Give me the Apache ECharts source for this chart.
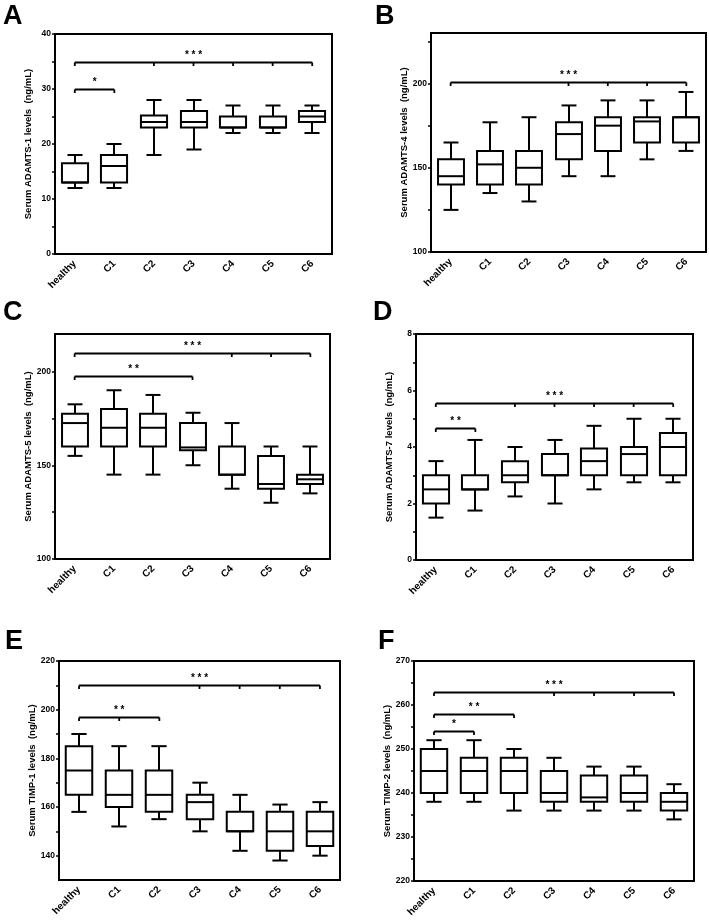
<!DOCTYPE html>
<html>
<head>
<meta charset="utf-8">
<script src="https://cdn.jsdelivr.net/npm/echarts@6/dist/echarts.min.js"></script>
<style>
  html, body { margin: 0; padding: 0; background: #fff; }
  #chart { width: 709px; height: 924px; }
</style>
</head>
<body>
<div id="chart"></div>
<script>
// ---------------- data ----------------
const categories = ['healthy', 'C1', 'C2', 'C3', 'C4', 'C5', 'C6'];
const panelLetters = ['A', 'B', 'C', 'D', 'E', 'F'];
const yTitles = [
  'Serum ADAMTS-1 levels  (ng/mL)',
  'Serum ADAMTS-4 levels  (ng/mL)',
  'Serum ADAMTS-5 levels  (ng/mL)',
  'Serum ADAMTS-7 levels  (ng/mL)',
  'Serum TIMP-1 levels  (ng/mL)',
  'Serum TIMP-2 levels  (ng/mL)'
];

// each box: [lower whisker, Q1, median, Q3, upper whisker]
const boxesA = [[12, 13, 13, 16.5, 18], [12, 13, 16, 18, 20], [18, 23, 24, 25.2, 28], [19, 23, 24, 26, 28], [22, 23, 23, 25, 27], [22, 23, 23, 25, 27], [22, 24, 25, 26, 27]];
const boxesB = [[125, 140, 145, 155, 165], [135, 140, 152, 160, 177], [130, 140, 150, 160, 180], [145, 155, 170, 177, 187], [145, 160, 175, 180, 190], [155, 165, 177.5, 180, 190], [160, 165, 180, 180, 195]];
const boxesC = [[155, 160, 172.5, 177.5, 182.5], [145, 160, 170, 180, 190], [145, 160, 170, 177.5, 187.5], [150, 158, 159.5, 172.5, 178], [137.5, 145, 145, 160, 172.5], [130, 137.5, 140, 155, 160], [135, 140, 142.5, 145, 160]];
const boxesD = [[1.5, 2, 2.5, 3, 3.5], [1.75, 2.5, 2.5, 3, 4.25], [2.25, 2.75, 3, 3.5, 4], [2, 3, 3, 3.75, 4.25], [2.5, 3, 3.5, 3.95, 4.75], [2.75, 3, 3.75, 4, 5], [2.75, 3, 4, 4.5, 5]];
const boxesE = [[158, 165, 175, 185, 190], [152, 160, 165, 175, 185], [155, 158, 165, 175, 185], [150, 155, 162, 165, 170], [142, 150, 150, 158, 165], [138, 142, 150, 158, 161], [140, 144, 150, 158, 162]];
const boxesF = [[238, 240, 245, 250, 252], [238, 240, 245, 248, 252], [236, 240, 245, 248, 250], [236, 238, 240, 245, 248], [236, 238, 239, 244, 246], [236, 238, 240, 244, 246], [234, 236, 238, 240, 242]];

// significance brackets: [from category, to category, y value, label, categories with a tick]
const bracketsA = [[0, 6, 35, '* * *', [0, 2, 3, 4, 5, 6]], [0, 1, 30, '*', [0, 1]]];
const bracketsB = [[0, 6, 201, '* * *', [0, 3, 4, 5, 6]]];
const bracketsC = [[0, 6, 210, '* * *', [0, 4, 5, 6]], [0, 3, 197.5, '* *', [0, 3]]];
const bracketsD = [[0, 6, 5.55, '* * *', [0, 2, 3, 4, 5, 6]], [0, 1, 4.67, '* *', [0, 1]]];
const bracketsE = [[0, 6, 210, '* * *', [0, 3, 4, 5, 6]], [0, 2, 197, '* *', [0, 1, 2]]];
const bracketsF = [[0, 6, 263, '* * *', [0, 3, 4, 5, 6]], [0, 2, 258, '* *', [0, 2]], [0, 1, 254, '*', [0, 1]]];

// y axis ranges and ticks
const yMin = [0, 100, 100, 0, 130, 220];
const yMax = [40, 230, 220, 8, 220, 270];
const yTickLabels = [
  [0, 10, 20, 30, 40],
  [100, 150, 200],
  [100, 150, 200],
  [0, 2, 4, 6, 8],
  [140, 160, 180, 200, 220],
  [220, 230, 240, 250, 260, 270]
];
const yMinorTicks = [
  [5, 15, 25, 35],
  [125, 175, 225],
  [125, 175],
  [1, 3, 5, 7],
  [150, 170, 190, 210],
  [225, 235, 245, 255, 265]
];

const allBoxes = [boxesA, boxesB, boxesC, boxesD, boxesE, boxesF];
const allBrackets = [bracketsA, bracketsB, bracketsC, bracketsD, bracketsE, bracketsF];

// ---------------- layout ----------------
const FONT = '"Liberation Sans", Arial, Helvetica, sans-serif';
const grids = [
  { left: 55, top: 34, width: 277, height: 220 },
  { left: 431, top: 33, width: 275, height: 219 },
  { left: 55, top: 334, width: 275, height: 225 },
  { left: 416, top: 334, width: 277, height: 226 },
  { left: 59, top: 661, width: 281, height: 219 },
  { left: 414, top: 661, width: 280, height: 220 }
];
const letterPos = [[3, 3], [375, 3], [3, 299], [373, 299], [5, 628], [378, 628]];

function boxRenderer(params, api) {
  const idx = api.value(0);
  const lo = api.coord([idx, api.value(1)]);
  const q1 = api.coord([idx, api.value(2)]);
  const md = api.coord([idx, api.value(3)]);
  const q3 = api.coord([idx, api.value(4)]);
  const hi = api.coord([idx, api.value(5)]);
  const band = api.size([1, 0])[0];
  const bw = band * 0.66;
  const cw = band * 0.38;
  const x = Math.round(lo[0]);
  const st = { stroke: '#000', lineWidth: 2, fill: null };
  return {
    type: 'group',
    children: [
      { type: 'line', shape: { x1: x, y1: hi[1], x2: x, y2: q3[1] }, style: st },
      { type: 'line', shape: { x1: x, y1: q1[1], x2: x, y2: lo[1] }, style: st },
      { type: 'line', shape: { x1: x - cw / 2, y1: hi[1], x2: x + cw / 2, y2: hi[1] }, style: st },
      { type: 'line', shape: { x1: x - cw / 2, y1: lo[1], x2: x + cw / 2, y2: lo[1] }, style: st },
      { type: 'rect', shape: { x: x - bw / 2, y: q3[1], width: bw, height: q1[1] - q3[1] }, style: { stroke: '#000', lineWidth: 2, fill: '#fff' } },
      { type: 'line', shape: { x1: x - bw / 2, y1: md[1], x2: x + bw / 2, y2: md[1] }, style: st }
    ]
  };
}

function makeBracketRenderer(list) {
  return function (params, api) {
    const b = list[params.dataIndex];
    const p0 = api.coord([api.value(0), api.value(2)]);
    const p1 = api.coord([api.value(1), api.value(2)]);
    const y = Math.round(p0[1]) + 0.5;
    const children = [
      { type: 'line', shape: { x1: p0[0], y1: y, x2: p1[0], y2: y }, style: { stroke: '#000', lineWidth: 1.8 } }
    ];
    b[4].forEach(function (t) {
      const tx = api.coord([t, api.value(2)])[0];
      children.push({ type: 'line', shape: { x1: tx, y1: y, x2: tx, y2: y + 3.5 }, style: { stroke: '#000', lineWidth: 1.8 } });
    });
    children.push({
      type: 'text',
      x: (p0[0] + p1[0]) / 2,
      y: y - 2,
      style: { text: b[3], fill: '#000', font: 'bold 10px ' + FONT, align: 'center', verticalAlign: 'bottom' }
    });
    return { type: 'group', children: children };
  };
}

const option = {
  animation: false,
  backgroundColor: '#fff',
  grid: grids.map(g => Object.assign({ show: true, borderColor: '#000', borderWidth: 2, backgroundColor: 'transparent', containLabel: false }, g)),
  xAxis: grids.map((g, i) => ({
    gridIndex: i,
    type: 'category',
    data: categories,
    boundaryGap: true,
    axisLine: { lineStyle: { color: '#000', width: 2 } },
    axisTick: { alignWithLabel: true, length: 4, lineStyle: { color: '#000', width: 2 } },
    axisLabel: { rotate: 45, interval: 0, color: '#000', fontWeight: 'bold', fontSize: 10, fontFamily: FONT, margin: 8 },
    splitLine: { show: false }
  })),
  yAxis: grids.map((g, i) => ({
    gridIndex: i,
    type: 'value',
    min: yMin[i],
    max: yMax[i],
    name: yTitles[i],
    nameLocation: 'middle',
    nameRotate: 90,
    nameGap: 22,
    nameTextStyle: { color: '#000', fontWeight: 'bold', fontSize: 9.5, fontFamily: FONT },
    axisLine: { show: true, lineStyle: { color: '#000', width: 2 } },
    axisTick: { show: true, length: 3, lineStyle: { color: '#000', width: 1.5 }, customValues: yTickLabels[i].concat(yMinorTicks[i]) },
    axisLabel: { color: '#000', fontWeight: 'bold', fontSize: 8.5, fontFamily: FONT, margin: 4, customValues: yTickLabels[i] },
    splitLine: { show: false }
  })),
  graphic: panelLetters.map((L, i) => ({
    type: 'text',
    left: letterPos[i][0],
    top: letterPos[i][1],
    style: { text: L, fill: '#000', font: 'bold 27px ' + FONT }
  })),
  series: []
};

allBoxes.forEach(function (boxes, i) {
  option.series.push({
    type: 'custom',
    xAxisIndex: i,
    yAxisIndex: i,
    renderItem: boxRenderer,
    encode: { x: 0, y: [1, 2, 3, 4, 5] },
    data: boxes.map((b, k) => [k].concat(b)),
    z: 3
  });
  option.series.push({
    type: 'custom',
    xAxisIndex: i,
    yAxisIndex: i,
    renderItem: makeBracketRenderer(allBrackets[i]),
    encode: { x: [0, 1], y: 2 },
    data: allBrackets[i].map(b => [b[0], b[1], b[2]]),
    z: 4
  });
});

const chart = echarts.init(document.getElementById('chart'), null, { renderer: 'canvas' });
chart.setOption(option);
</script>
</body>
</html>
